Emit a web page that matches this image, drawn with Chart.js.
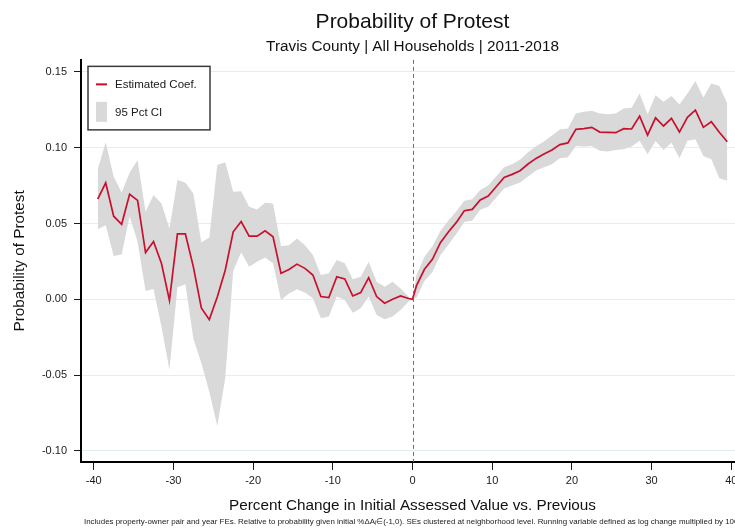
<!DOCTYPE html>
<html>
<head>
<meta charset="utf-8">
<script src="https://cdn.jsdelivr.net/npm/chart.js@4/dist/chart.umd.min.js"></script>
<style>
  html, body { margin: 0; padding: 0; background: #fff; overflow: hidden; }
  canvas { display: block; }
</style>
</head>
<body>
<canvas id="chart" width="760" height="531"></canvas>
<script>
// Bin midpoints of the running variable (percent change, log change x 100)
const binCenters = [
  -39.5, -38.5, -37.5, -36.5, -35.5, -34.5, -33.5, -32.5, -31.5, -30.5,
  -29.5, -28.5, -27.5, -26.5, -25.5, -24.5, -23.5, -22.5, -21.5, -20.5,
  -19.5, -18.5, -17.5, -16.5, -15.5, -14.5, -13.5, -12.5, -11.5, -10.5,
  -9.5, -8.5, -7.5, -6.5, -5.5, -4.5, -3.5, -2.5, -1.5, -0.5,
  0,
  0.5, 1.5, 2.5, 3.5, 4.5, 5.5, 6.5, 7.5, 8.5, 9.5,
  10.5, 11.5, 12.5, 13.5, 14.5, 15.5, 16.5, 17.5, 18.5, 19.5,
  20.5, 21.5, 22.5, 23.5, 24.5, 25.5, 26.5, 27.5, 28.5, 29.5,
  30.5, 31.5, 32.5, 33.5, 34.5, 35.5, 36.5, 37.5, 38.5, 39.5
];

// Estimated coefficients
const estimate = [
  0.066, 0.0768, 0.0548, 0.0495, 0.0693, 0.0652, 0.0308, 0.0381, 0.0236, -0.0007,
  0.0431, 0.0431, 0.0214, -0.0057, -0.0134, 0.0015, 0.0192, 0.0445, 0.0513, 0.0416,
  0.0416, 0.0452, 0.0412, 0.0171, 0.0197, 0.0232, 0.0204, 0.016, 0.0018, 0.0011,
  0.0149, 0.0134, 0.0022, 0.0044, 0.0143, 0.0018, -0.0026, 0.0, 0.0022, 0.0005,
  0,
  0.009, 0.0198, 0.0264, 0.0373, 0.0444, 0.0507, 0.0584, 0.0593, 0.0655, 0.0681,
  0.0742, 0.0804, 0.0824, 0.0848, 0.0892, 0.0929, 0.0958, 0.0985, 0.102, 0.1031,
  0.1121, 0.1125, 0.1134, 0.1103, 0.1101, 0.1099, 0.1125, 0.1123, 0.1208, 0.1083,
  0.1197, 0.1143, 0.1193, 0.1103, 0.12, 0.1248, 0.1134, 0.1171, 0.1101, 0.1039
];

// Upper bound of the 95% confidence interval
const ciUpper = [
  0.0857, 0.1035, 0.0808, 0.0705, 0.0834, 0.0918, 0.0577, 0.0687, 0.0632, 0.0467,
  0.0786, 0.0768, 0.0698, 0.0374, 0.0408, 0.0885, 0.0903, 0.0709, 0.0713, 0.061,
  0.0592, 0.0636, 0.0632, 0.0351, 0.0357, 0.0401, 0.0357, 0.0292, 0.016, 0.0171,
  0.0259, 0.0237, 0.0132, 0.0149, 0.0248, 0.0116, 0.0083, 0.0116, 0.0072, 0.0018,
  0,
  0.016, 0.028, 0.035, 0.045, 0.052, 0.058, 0.065, 0.066, 0.072, 0.075,
  0.081, 0.087, 0.089, 0.092, 0.097, 0.101, 0.104, 0.108, 0.112, 0.1127,
  0.1226, 0.1237, 0.1243, 0.1226, 0.1221, 0.1226, 0.1259, 0.1263, 0.1357, 0.1221,
  0.1346, 0.1303, 0.134, 0.1285, 0.1357, 0.1439, 0.1331, 0.1423, 0.1406, 0.1292
];

// Lower bound of the 95% confidence interval
const ciLower = [
  0.0462, 0.0489, 0.0286, 0.0295, 0.0548, 0.0379, 0.0055, 0.0068, -0.0183, -0.0465,
  0.0079, 0.0099, -0.026, -0.042, -0.061, -0.0835, -0.052, 0.0186, 0.031, 0.0214,
  0.0247, 0.0276, 0.0237, -0.0004, 0.0039, 0.0066, 0.0044, 0.0007, -0.0125, -0.0114,
  0.0018, -0.0004, -0.0088, -0.0059, 0.0018, -0.0103, -0.0132, -0.0114, -0.007, -0.0015,
  0,
  0.001, 0.012, 0.018, 0.029, 0.036, 0.043, 0.051, 0.052, 0.059, 0.061,
  0.067, 0.073, 0.075, 0.077, 0.081, 0.085, 0.087, 0.089, 0.093, 0.0936,
  0.1011, 0.1007, 0.1011, 0.098, 0.0974, 0.0985, 0.0989, 0.1007, 0.1046, 0.0956,
  0.1044, 0.0985, 0.1033, 0.093, 0.1046, 0.1055, 0.0945, 0.0923, 0.0798, 0.0781
];

const xTicks = [-40, -30, -20, -10, 0, 10, 20, 30, 40];
const yTicks = [-0.10, -0.05, 0.00, 0.05, 0.10, 0.15];

const footnote = 'Includes property-owner pair and year FEs. Relative to probability given initial %\u0394A\u1D62\u2208(-1,0). SEs clustered at neighborhood level. Running variable defined as log change multiplied by 100.';

const LINE_RED = '#c8102e';
const CI_GREY = '#d9d9d9';

const toPoints = vals => binCenters.map((x, i) => ({ x: x, y: vals[i] }));

Chart.defaults.font.family = '"Liberation Sans", Arial, Helvetica, sans-serif';
Chart.defaults.color = '#1a1a1a';

// Dashed reference line at zero change
const zeroLine = {
  id: 'zeroLine',
  afterDatasetsDraw(chart) {
    const { ctx, chartArea, scales } = chart;
    const x = Math.round(scales.x.getPixelForValue(0)) + 0.5;
    ctx.save();
    ctx.strokeStyle = '#6e6e6e';
    ctx.lineWidth = 1;
    ctx.setLineDash([4, 3]);
    ctx.beginPath();
    ctx.moveTo(x, chartArea.top);
    ctx.lineTo(x, chartArea.bottom);
    ctx.stroke();
    ctx.restore();
  }
};

// Boxed legend in the upper-left corner of the plot
const boxedLegend = {
  id: 'boxedLegend',
  afterDraw(chart) {
    const { ctx, chartArea } = chart;
    const left = chartArea.left + 7, top = chartArea.top + 6.5;
    const w = 122, h = 63.5;
    ctx.save();
    ctx.fillStyle = '#fff';
    ctx.fillRect(left, top, w, h);
    ctx.strokeStyle = '#3a3a3a';
    ctx.lineWidth = 1.5;
    ctx.strokeRect(left, top, w, h);

    const coefLabel = chart.data.datasets[0].label;
    const ciLabel = chart.data.datasets[1].label;
    ctx.font = '11.5px "Liberation Sans", Arial, sans-serif';
    ctx.textBaseline = 'middle';
    ctx.textAlign = 'left';

    // line sample
    ctx.strokeStyle = LINE_RED;
    ctx.lineWidth = 2;
    ctx.beginPath();
    ctx.moveTo(left + 8, top + 18);
    ctx.lineTo(left + 19, top + 18);
    ctx.stroke();
    ctx.fillStyle = '#1a1a1a';
    ctx.fillText(coefLabel, left + 27, top + 18.5);

    // area sample
    ctx.fillStyle = CI_GREY;
    ctx.fillRect(left + 8, top + 35.5, 11, 20);
    ctx.fillStyle = '#1a1a1a';
    ctx.fillText(ciLabel, left + 27, top + 46);
    ctx.restore();
  }
};

// Note beneath the axis title, set in a condensed face
const noteLine = {
  id: 'noteLine',
  afterDraw(chart) {
    const { ctx } = chart;
    ctx.save();
    ctx.font = '8px "Liberation Sans", Arial, sans-serif';
    ctx.fillStyle = '#1a1a1a';
    ctx.textBaseline = 'middle';
    ctx.textAlign = 'left';
    const head = footnote.slice(0, footnote.indexOf('by 10') + 5);
    const sx = 650 / ctx.measureText(head).width;
    ctx.translate(84, 522);
    ctx.scale(sx, 1);
    ctx.fillText(footnote, 0, 0);
    ctx.restore();
  }
};

new Chart(document.getElementById('chart'), {
  type: 'line',
  data: {
    datasets: [
      {
        label: 'Estimated Coef.',
        data: toPoints(estimate),
        borderColor: LINE_RED,
        borderWidth: 1.7,
        pointRadius: 0,
        tension: 0,
        fill: false
      },
      {
        label: '95 Pct CI',
        data: toPoints(ciUpper),
        borderColor: 'transparent',
        borderWidth: 0,
        backgroundColor: CI_GREY,
        pointRadius: 0,
        tension: 0,
        fill: '+1'
      },
      {
        label: 'CI lower',
        data: toPoints(ciLower),
        borderColor: 'transparent',
        borderWidth: 0,
        pointRadius: 0,
        tension: 0,
        fill: false
      }
    ]
  },
  options: {
    responsive: false,
    animation: false,
    devicePixelRatio: 1,
    layout: { padding: { left: 0, right: 16, top: 0, bottom: 16 } },
    plugins: {
      legend: { display: false },
      tooltip: { enabled: false },
      title: {
        display: true,
        text: 'Probability of Protest',
        fullSize: false,
        color: '#111',
        font: { size: 21, weight: 'normal' },
        padding: { top: 10, bottom: 0 }
      },
      subtitle: {
        display: true,
        text: 'Travis County | All Households | 2011-2018',
        fullSize: false,
        color: '#111',
        font: { size: 15.3, weight: 'normal' },
        padding: { top: 2.5, bottom: 3.8 }
      }
    },
    scales: {
      x: {
        type: 'linear',
        min: -41.6,
        max: 41.6,
        afterBuildTicks: s => { s.ticks = xTicks.map(v => ({ value: v })); },
        afterFit: s => { s.height = 53; },
        ticks: {
          autoSkip: false,
          maxRotation: 0,
          padding: 4,
          color: '#1a1a1a',
          font: { size: 11 },
          callback: v => String(v)
        },
        grid: {
          drawOnChartArea: false,
          drawTicks: true,
          tickLength: 8,
          tickColor: '#1a1a1a',
          tickWidth: 1
        },
        border: { display: true, color: '#000', width: 2 },
        title: {
          display: true,
          text: 'Percent Change in Initial Assessed Value vs. Previous',
          color: '#111',
          font: { size: 15.3 },
          padding: { top: 0, bottom: 0 }
        }
      },
      y: {
        type: 'linear',
        min: -0.1073,
        max: 0.1579,
        afterBuildTicks: s => { s.ticks = yTicks.map(v => ({ value: v })); },
        afterFit: s => { s.width = 81; },
        ticks: {
          autoSkip: false,
          padding: 7,
          color: '#1a1a1a',
          font: { size: 11 },
          callback: v => Number(v).toFixed(2)
        },
        grid: {
          color: '#e4edf0',
          lineWidth: 1,
          drawTicks: true,
          tickLength: 7,
          tickColor: '#1a1a1a',
          tickWidth: 1
        },
        border: { display: true, color: '#000', width: 2 },
        title: {
          display: true,
          text: 'Probability of Protest',
          color: '#111',
          font: { size: 15.3 },
          padding: { top: 11, bottom: 0 }
        }
      }
    }
  },
  plugins: [zeroLine, boxedLegend, noteLine]
});
</script>
</body>
</html>
